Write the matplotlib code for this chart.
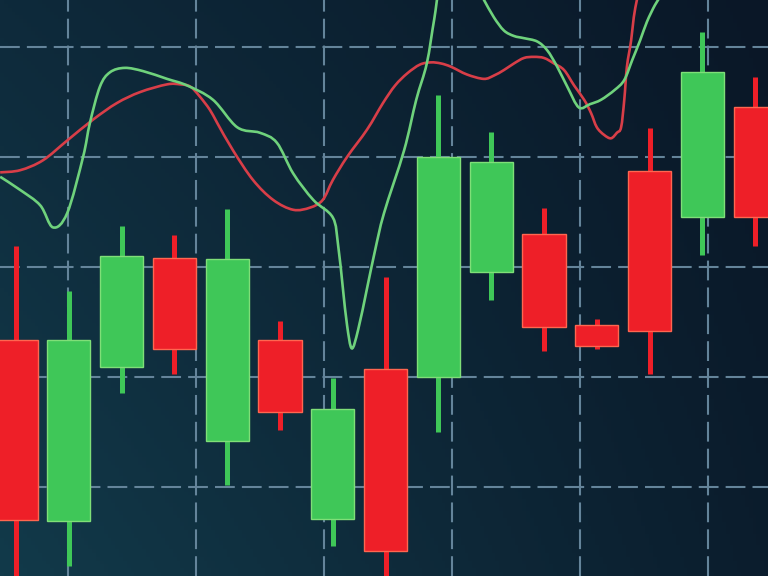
import numpy as np
import matplotlib
matplotlib.use("Agg")
import matplotlib.pyplot as plt
from matplotlib.colors import to_rgb
from matplotlib.path import Path
from matplotlib.patches import PathPatch

# candles (price units, grid every 10)
opens = [23.4, 6.9, 20.9, 30.8, 14.2, 23.4, 7.1, 20.7, 20.0, 29.5, 33.0, 24.7, 38.7, 34.5, 44.5]
closes = [7.0, 23.4, 31.0, 22.5, 30.7, 16.8, 17.1, 4.2, 40.0, 39.5, 24.5, 22.8, 24.2, 47.7, 34.5]
highs = [31.9, 27.8, 33.7, 32.9, 35.3, 25.1, 19.9, 29.1, 45.6, 42.3, 35.4, 25.3, 42.6, 51.4, 47.3]
lows = [-1.0, 2.8, 18.5, 20.3, 10.2, 15.2, 4.6, -1.0, 15.0, 27.0, 22.4, 22.5, 20.3, 31.1, 31.9]

# fast (green) indicator line: time in candle units, value
fast_t = [-0.30, 0.08, 0.46, 0.70, 0.97, 1.27, 1.40, 1.59, 1.78, 2.06, 2.41, 2.86, 3.24, 3.73,
          4.19, 4.62, 4.94, 5.25, 5.63, 6.00, 6.10, 6.19, 6.27, 6.36, 6.48, 6.65, 6.80, 6.97,
          7.35, 7.58, 7.78, 7.92, 8.03, 8.39, 8.75, 8.86, 9.05, 9.24, 9.43, 9.62, 9.87, 10.06,
          10.25, 10.45, 10.66, 10.87, 11.08, 11.34, 11.52, 11.67, 11.82, 11.95, 12.10, 12.22]
fast_v = [38.2, 37.0, 35.6, 33.6, 34.9, 40.0, 43.1, 46.4, 47.7, 48.1, 47.8, 47.1, 46.5, 45.2,
          42.7, 42.2, 41.3, 38.5, 36.1, 34.5, 32.0, 28.1, 24.7, 22.6, 24.3, 28.1, 31.5, 34.9,
          40.6, 45.2, 48.5, 52.5, 55.2, 57.9, 55.2, 54.3, 52.7, 51.5, 51.0, 50.8, 50.5, 49.7,
          48.2, 46.3, 44.5, 44.8, 45.2, 46.1, 47.0, 48.8, 50.6, 52.3, 53.8, 54.7]

# slow (red) indicator line
slow_t = [-0.30, 0.08, 0.51, 0.97, 1.46, 1.91, 2.35, 2.86, 3.11, 3.30, 3.48, 3.67, 3.81, 4.11,
          4.49, 4.87, 5.25, 5.57, 5.81, 6.00, 6.27, 6.65, 6.95, 7.18, 7.41, 7.65, 7.86, 8.05,
          8.24, 8.54, 8.86, 9.05, 9.24, 9.43, 9.62, 9.81, 10.00, 10.19, 10.38, 10.57, 10.76,
          10.89, 11.00, 11.14, 11.27, 11.38, 11.46, 11.52, 11.57, 11.65, 11.70, 11.76, 11.82]
slow_v = [38.6, 38.8, 39.7, 41.5, 43.4, 44.9, 45.9, 46.6, 46.6, 46.4, 45.5, 44.3, 43.1, 40.6,
          37.9, 36.1, 35.2, 35.4, 36.1, 37.9, 40.0, 42.5, 44.9, 46.5, 47.6, 48.4, 48.6, 48.5,
          48.2, 47.5, 47.1, 47.4, 47.9, 48.5, 49.0, 49.1, 49.0, 48.5, 47.9, 46.5, 45.2,
          44.0, 42.7, 42.0, 41.7, 42.2, 42.7, 45.2, 48.2, 50.6, 52.7, 54.3, 55.6]

GREEN = "#3fc758"
GREEN_EDGE = "#7fdf78"
RED = "#ee1f28"
RED_EDGE = "#ff6650"
GRID = "#64849a"


def smooth_path(t, v):
    # catmull-rom through the points, drawn as cubic bezier segments
    p = np.column_stack([t, v])
    p = np.vstack([p[0], p, p[-1]])
    verts = [p[1]]
    codes = [Path.MOVETO]
    for k in range(1, len(p) - 2):
        c1 = p[k] + (p[k + 1] - p[k - 1]) / 6
        c2 = p[k + 1] - (p[k + 2] - p[k]) / 6
        verts += [c1, c2, p[k + 1]]
        codes += [Path.CURVE4] * 3
    return Path(verts, codes)


fig = plt.figure(figsize=(7.68, 5.76), dpi=100)
ax = fig.add_axes([0, 0, 1, 1])

# background gradient (bilinear between corners)
tl, tr = np.array(to_rgb("#0e2a3b")), np.array(to_rgb("#0a1727"))
bl, br = np.array(to_rgb("#123a4a")), np.array(to_rgb("#0b1d2d"))
u = np.linspace(0, 1, 200)[None, :, None]
w = np.linspace(0, 1, 150)[:, None, None]
grad = (1 - w) * ((1 - u) * tl + u * tr) + w * ((1 - u) * bl + u * br)
ax.imshow(grad, extent=[0, 1, 0, 1], transform=ax.transAxes, aspect="auto", zorder=0)

x = np.arange(len(opens))
ax.set_xlim(-0.303, 14.242)
ax.set_ylim(1.91, 54.27)

# dashed grid
grid_x = 0.985 + 2.4242 * np.arange(6)
for gx in grid_x:
    ax.axvline(gx, color=GRID, lw=1.5, dashes=(9.5, 3.4), zorder=1)
for gy in [10, 20, 30, 40, 50]:
    ax.axhline(gy, color=GRID, lw=1.5, dashes=(9.5, 3.4), zorder=1)

for i in x:
    up = closes[i] > opens[i]
    c = GREEN if up else RED
    ec = GREEN_EDGE if up else RED_EDGE
    ax.vlines(i, lows[i], highs[i], color=c, lw=3.6, zorder=2)
    ax.bar(i, closes[i] - opens[i], bottom=opens[i], width=0.82,
           color=c, edgecolor=ec, linewidth=1.0, zorder=3)

ax.add_patch(PathPatch(smooth_path(slow_t, slow_v), facecolor="none",
                       edgecolor="#d83e48", lw=1.9, zorder=4))
ax.add_patch(PathPatch(smooth_path(fast_t, fast_v), facecolor="none",
                       edgecolor="#6fd27c", lw=1.9, zorder=5))

ax.set_axis_off()
fig.savefig("out.png", dpi=100)
